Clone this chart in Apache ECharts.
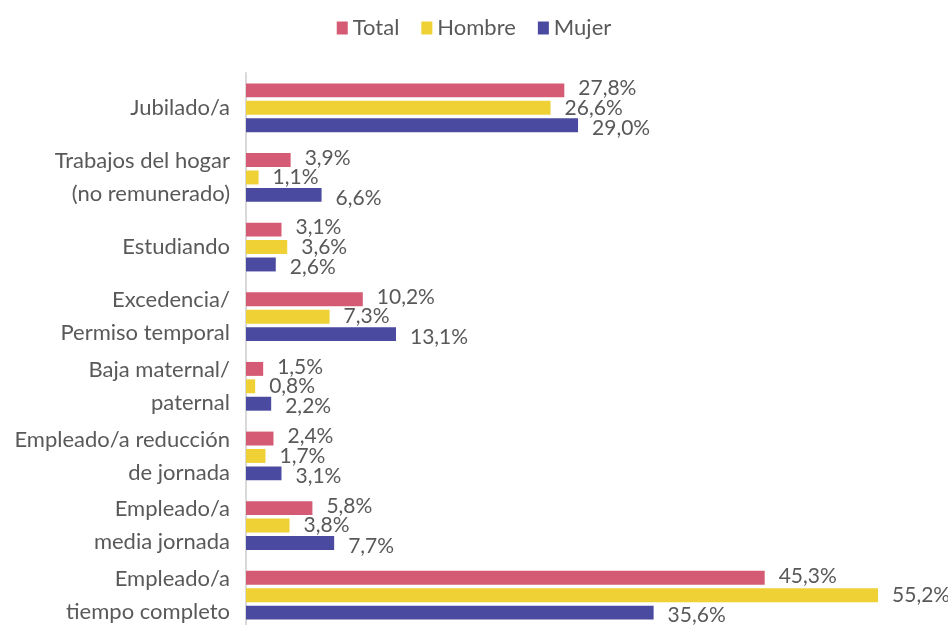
<!DOCTYPE html>
<html>
<head>
<meta charset="utf-8">
<script src="https://cdn.jsdelivr.net/npm/echarts@6/dist/echarts.min.js"></script>
<style>
  html, body { margin: 0; padding: 0; background: #fff; }
  #chart { width: 948px; height: 625px; }
</style>
</head>
<body>
<div id="chart"></div>
<script>
// categorias (de arriba a abajo)
const categorias = [
  'Jubilado/a',
  'Trabajos del hogar\n(no remunerado)',
  'Estudiando',
  'Excedencia/\nPermiso temporal',
  'Baja maternal/\npaternal',
  'Empleado/a reducción\nde jornada',
  'Empleado/a\nmedia jornada',
  'Empleado/a\ntiempo completo'
]
const total = [27.8, 3.9, 3.1, 10.2, 1.5, 2.4, 5.8, 45.3]
const hombre = [26.6, 1.1, 3.6, 7.3, 0.8, 1.7, 3.8, 55.2]
const mujer = [29.0, 6.6, 2.6, 13.1, 2.2, 3.1, 7.7, 35.6]

const fuente = 'Lato'
const gris = '#595959'

const chart = echarts.init(document.getElementById('chart'))

function etiqueta(dy) {
  return {
    show: true,
    position: 'right',
    distance: 14,
    offset: [0, dy],
    color: gris,
    fontFamily: fuente,
    fontSize: 21,
    formatter: p => p.value.toFixed(1).replace('.', ',') + '%'
  }
}

const option = {
  animation: false,
  legend: {
    top: 12,
    left: 'center',
    itemWidth: 11,
    itemHeight: 13,
    itemGap: 22,
    itemStyle: {},
    icon: 'rect',
    textStyle: { color: gris, fontFamily: fuente, fontSize: 22 },
    data: ['Total', 'Hombre', 'Mujer']
  },
  grid: {
    left: 246,
    right: 15,
    top: 73,
    height: 557,
    outerBoundsMode: 'none'
  },
  xAxis: {
    type: 'value',
    min: 0,
    max: 60,
    show: false
  },
  yAxis: {
    type: 'category',
    inverse: true,
    data: categorias,
    axisLine: { lineStyle: { color: '#d9d9d9', width: 2 } },
    axisTick: { show: false },
    axisLabel: {
      margin: 16,
      color: gris,
      fontFamily: fuente,
      fontSize: 22,
      lineHeight: 33,
      align: 'right'
    }
  },
  series: [
    {
      name: 'Total',
      type: 'bar',
      data: total,
      barGap: '25%',
      barCategoryGap: '30%',
      itemStyle: { color: '#d45b73' },
      label: etiqueta(-2)
    },
    {
      name: 'Hombre',
      type: 'bar',
      data: hombre,
      barGap: '25%',
      barCategoryGap: '30%',
      itemStyle: { color: '#efd035' },
      label: etiqueta(0)
    },
    {
      name: 'Mujer',
      type: 'bar',
      data: mujer,
      barGap: '25%',
      barCategoryGap: '30%',
      itemStyle: { color: '#4a4aa0' },
      label: etiqueta(3)
    }
  ]
}

chart.setOption(option)
</script>
</body>
</html>
